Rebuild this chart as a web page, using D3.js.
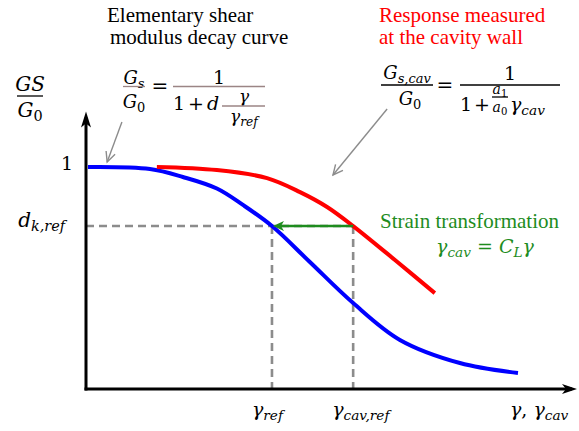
<!DOCTYPE html>
<html>
<head>
<meta charset="utf-8">
<script src="https://cdn.jsdelivr.net/npm/d3@7"></script>
<style>
  html, body { margin: 0; padding: 0; background: #fff; }
  svg { display: block; }
</style>
</head>
<body>
<svg id="chart" width="579" height="431"></svg>
<script>
// Normalised strain (x) and stiffness ratio Gs/G0 (y)
const elementaryStrain = [0.4, 13.0, 19.7, 26.6, 31.9, 37.8, 45.5, 54.3, 63.8, 76.0, 87.8];
const elementaryRatio  = [1.0, 0.991, 0.955, 0.903, 0.829, 0.734, 0.572, 0.387, 0.221, 0.117, 0.072];
const cavityStrain = [14.4, 26.6, 36.8, 43.5, 49.0, 54.3, 62.8, 70.9];
const cavityRatio  = [1.0, 0.986, 0.950, 0.887, 0.820, 0.734, 0.581, 0.432];

const gammaRef = 37.8;      // reference strain on the elementary curve
const gammaCavRef = 54.3;   // matching strain at the cavity wall
const dkRef = 0.734;        // reference stiffness ratio
const yTickValues = [1, dkRef];

// Pointer arrows from the two formulas to their curves: [x0, y0, x1, y1]
const pointerElementary = [7.3, 1.203, 4.3, 1.023];
const pointerCavity = [61.2, 1.261, 50.2, 0.964];

const svg = d3.select("#chart");
const SERIF = "'Liberation Serif', 'Times New Roman', serif";
const MATH = "'DejaVu Serif', 'Liberation Serif', serif";

const x = d3.scaleLinear().domain([0, 100]).range([86, 578]);
const y = d3.scaleLinear().domain([0, 1]).range([389, 167]);
const yTop = 1.25;

// ---------- math text helper ----------
// parts: [text, kind] with kind in i (italic), r (roman), s (italic subscript), sr (roman subscript)
function math(parent, px, py, parts, size, color, anchor) {
  const t = parent.append("text")
    .attr("x", px).attr("y", py)
    .attr("font-family", MATH)
    .attr("font-size", size)
    .attr("fill", color)
    .attr("text-anchor", anchor || "start");
  let shift = 0;
  parts.forEach(([s, kind]) => {
    const isSub = kind === "s" || kind === "sr";
    const target = isSub ? size * 0.22 : 0;
    t.append("tspan")
      .attr("dy", target - shift)
      .attr("font-size", isSub ? size * 0.72 : size)
      .attr("font-style", (kind === "r" || kind === "sr") ? "normal" : "italic")
      .text(s);
    shift = target;
  });
  return t;
}
function bar(parent, x0, x1, yy, color) {
  parent.append("line").attr("x1", x0).attr("x2", x1).attr("y1", yy).attr("y2", yy)
    .attr("stroke", color).attr("stroke-width", 1.3);
}

// ---------- reference guides ----------
const guides = svg.append("g").attr("stroke", "#8c8c8c").attr("stroke-width", 2.6)
  .attr("stroke-dasharray", "8,5").attr("fill", "none");
guides.append("line").attr("x1", x(0)).attr("x2", x(gammaCavRef)).attr("y1", y(dkRef)).attr("y2", y(dkRef));
guides.append("line").attr("x1", x(gammaRef)).attr("x2", x(gammaRef)).attr("y1", y(dkRef)).attr("y2", y(0));
guides.append("line").attr("x1", x(gammaCavRef)).attr("x2", x(gammaCavRef)).attr("y1", y(dkRef)).attr("y2", y(0));

// ---------- curves ----------
const line = d3.line().x(d => x(d[0])).y(d => y(d[1])).curve(d3.curveCatmullRom.alpha(0.5));
svg.append("path")
  .datum(elementaryStrain.map((v, i) => [v, elementaryRatio[i]]))
  .attr("d", line).attr("fill", "none").attr("stroke", "#0000ff").attr("stroke-width", 4);
svg.append("path")
  .datum(cavityStrain.map((v, i) => [v, cavityRatio[i]]))
  .attr("d", line).attr("fill", "none").attr("stroke", "#ff0000").attr("stroke-width", 4);

// ---------- strain transformation arrow ----------
const green = "#1e8c1e";
const ax0 = x(gammaCavRef), ax1 = x(gammaRef), ay = y(dkRef);
svg.append("line").attr("x1", ax0).attr("x2", ax1 + 9).attr("y1", ay).attr("y2", ay)
  .attr("stroke", green).attr("stroke-width", 2.6);
svg.append("path")
  .attr("d", `M${ax1 + 1},${ay} L${ax1 + 12},${ay - 5} L${ax1 + 9},${ay} L${ax1 + 12},${ay + 5} Z`)
  .attr("fill", green);

// ---------- axes ----------
const axes = svg.append("g");
axes.append("line").attr("x1", x(0)).attr("x2", x(0)).attr("y1", y(0) + 1.5).attr("y2", y(yTop) + 6)
  .attr("stroke", "#000").attr("stroke-width", 3);
axes.append("line").attr("x1", x(0) - 1.5).attr("x2", x(100) - 6).attr("y1", y(0)).attr("y2", y(0))
  .attr("stroke", "#000").attr("stroke-width", 3);
const yt = y(yTop), xt = x(100) - 1;
axes.append("path")
  .attr("d", `M${x(0)},${yt} L${x(0) - 5},${yt + 16} L${x(0)},${yt + 12} L${x(0) + 5},${yt + 16} Z`)
  .attr("fill", "#000");
axes.append("path")
  .attr("d", `M${xt},${y(0)} L${xt - 15},${y(0) - 5} L${xt - 11},${y(0)} L${xt - 15},${y(0) + 5} Z`)
  .attr("fill", "#000");

// y tick labels
math(svg, 73, y(yTickValues[0]) + 3, [["1", "r"]], 19, "#000", "end");
math(svg, 65, y(yTickValues[1]) + 1, [["d", "i"], ["k,ref", "s"]], 20, "#000", "end");

// x tick labels
math(svg, x(gammaRef) - 20, 416, [["γ", "i"], ["ref", "s"]], 19, "#000", "start");
math(svg, x(gammaCavRef) - 21, 416, [["γ", "i"], ["cav,ref", "s"]], 19, "#000", "start");
math(svg, 510, 416, [["γ", "i"], [", ", "r"], ["γ", "i"], ["cav", "s"]], 19, "#000", "start");

// y axis title Gs / G0
math(svg, 30, 91, [["GS", "i"]], 20, "#000", "middle");
bar(svg, 17, 43, 96, "#000");
math(svg, 30, 117, [["G", "i"], ["0", "sr"]], 20, "#000", "middle");

// ---------- pointer arrows ----------
function pointer(p) {
  const [x0, y0, x1, y1] = [x(p[0]), y(p[1]), x(p[2]), y(p[3])];
  const ang = Math.atan2(y1 - y0, x1 - x0);
  const L = 11, W = 0.45;
  svg.append("line").attr("x1", x0).attr("y1", y0).attr("x2", x1).attr("y2", y1)
    .attr("stroke", "#8c8c8c").attr("stroke-width", 1.4);
  svg.append("path")
    .attr("d", `M${x1 - L * Math.cos(ang - W)},${y1 - L * Math.sin(ang - W)} L${x1},${y1} L${x1 - L * Math.cos(ang + W)},${y1 - L * Math.sin(ang + W)}`)
    .attr("fill", "none").attr("stroke", "#8c8c8c").attr("stroke-width", 1.4);
}
pointer(pointerElementary);
pointer(pointerCavity);

// ---------- annotations: elementary curve ----------
svg.append("text").attr("x", 107).attr("y", 22).attr("font-family", SERIF).attr("font-size", 21)
  .attr("fill", "#000").text("Elementary shear");
svg.append("text").attr("x", 110).attr("y", 44).attr("font-family", SERIF).attr("font-size", 21)
  .attr("fill", "#000").text("modulus decay curve");

const barCol = "#9b8585";
math(svg, 134, 84, [["G", "i"], ["s", "s"]], 18, "#000", "middle");
bar(svg, 123, 145, 86.5, barCol);
math(svg, 134, 108, [["G", "i"], ["0", "sr"]], 18, "#000", "middle");
math(svg, 160, 93, [["=", "r"]], 20, "#000", "middle");
math(svg, 219, 84, [["1", "r"]], 19, "#000", "middle");
bar(svg, 173, 265, 86.5, barCol);
math(svg, 179, 110, [["1", "r"]], 19, "#000", "middle");
math(svg, 196, 110, [["+", "r"]], 19, "#000", "middle");
math(svg, 207, 110, [["d", "i"]], 19, "#000", "start");
math(svg, 244, 102, [["γ", "i"]], 17, "#000", "middle");
bar(svg, 222, 265, 106, barCol);
math(svg, 244, 122, [["γ", "i"], ["ref", "s"]], 17, "#000", "middle");

// ---------- annotations: cavity wall ----------
svg.append("text").attr("x", 379).attr("y", 22).attr("font-family", SERIF).attr("font-size", 21)
  .attr("fill", "#ff0000").text("Response measured");
svg.append("text").attr("x", 379).attr("y", 44).attr("font-family", SERIF).attr("font-size", 21)
  .attr("fill", "#ff0000").text("at the cavity wall");

math(svg, 407, 79, [["G", "i"], ["s,cav", "s"]], 18, "#000", "middle");
bar(svg, 381, 433, 85, "#000");
math(svg, 410, 105, [["G", "i"], ["0", "sr"]], 18, "#000", "middle");
math(svg, 445, 92, [["=", "r"]], 20, "#000", "middle");
math(svg, 510, 80, [["1", "r"]], 19, "#000", "middle");
bar(svg, 460, 560, 85, "#000");
math(svg, 466, 111, [["1", "r"]], 19, "#000", "middle");
math(svg, 482, 111, [["+", "r"]], 19, "#000", "middle");
math(svg, 500, 94, [["a", "i"], ["1", "sr"]], 14, "#000", "middle");
bar(svg, 492, 508, 97, "#000");
math(svg, 500, 112, [["a", "i"], ["0", "sr"]], 14, "#000", "middle");
math(svg, 510, 111, [["γ", "i"], ["cav", "s"]], 19, "#000", "start");

// ---------- annotations: strain transformation ----------
svg.append("text").attr("x", 380).attr("y", 228).attr("font-family", SERIF).attr("font-size", 21)
  .attr("fill", green).text("Strain transformation");
math(svg, 485, 253, [["γ", "i"], ["cav", "s"], [" = ", "r"], ["C", "i"], ["L", "s"], ["γ", "i"]], 19, green, "middle");
</script>
</body>
</html>
